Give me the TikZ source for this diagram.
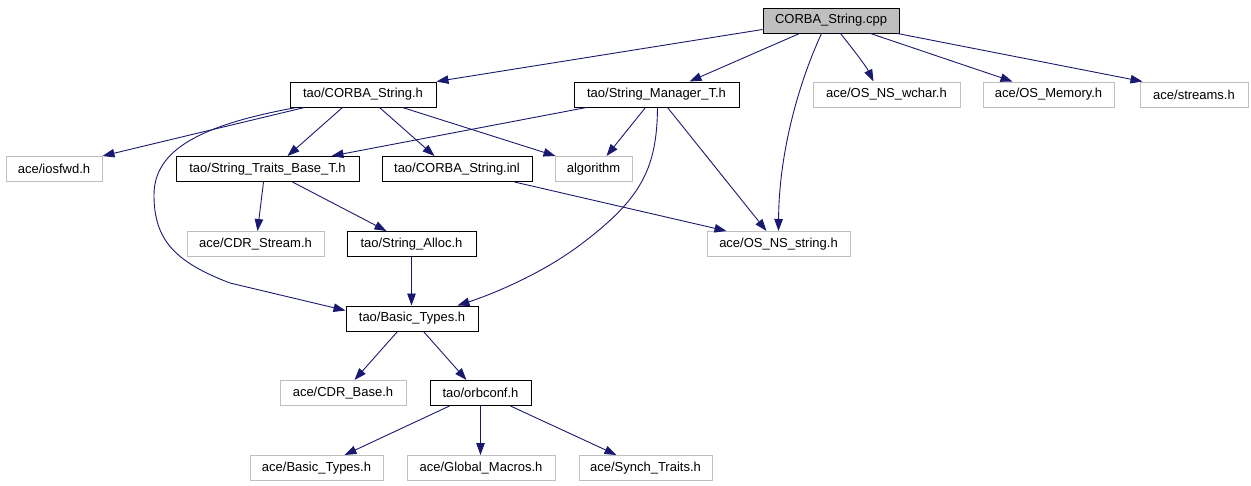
\documentclass[tikz,border=0pt]{standalone}
\usepackage{fontspec}
\setmainfont{Liberation Sans}
\usetikzlibrary{arrows.meta}
\definecolor{edgec}{RGB}{25,25,112}
\definecolor{lgray}{RGB}{191,191,191}
\begin{document}
\begin{tikzpicture}[x=1pt,y=-1pt,
  box/.style={draw=black,line width=1pt,minimum height=25pt,inner sep=0pt,font=\fontsize{13}{15}\selectfont},
  ext/.style={box,draw=lgray},
  root/.style={box,fill=lgray},
  dep/.style={draw=edgec,line width=0.9pt,-{Triangle[length=12pt,width=8.5pt]}}]
\useasboundingbox (0,0) rectangle (1251,485);
% nodes
\node[root,minimum width=136pt] (cpp) at (831,20.5) {CORBA\_String.cpp};
\node[box,minimum width=146pt] (csh) at (363,94.5) {tao/CORBA\_String.h};
\node[box,minimum width=165pt] (smt) at (656.5,94.5) {tao/String\_Manager\_T.h};
\node[ext,minimum width=147pt] (wchar) at (886.5,94.5) {ace/OS\_NS\_wchar.h};
\node[ext,minimum width=131pt] (mem) at (1048.5,94.5) {ace/OS\_Memory.h};
\node[ext,minimum width=108pt] (streams) at (1194,94.5) {ace/streams.h};
\node[ext,minimum width=96pt] (iosfwd) at (54,169) {ace/iosfwd.h};
\node[box,minimum width=183pt] (stb) at (267.5,169) {tao/String\_Traits\_Base\_T.h};
\node[box,minimum width=150pt] (inl) at (457,169) {tao/CORBA\_String.inl};
\node[ext,minimum width=77pt] (algo) at (593.5,169) {algorithm};
\node[ext,minimum width=137pt] (cdrs) at (255.5,244) {ace/CDR\_Stream.h};
\node[box,minimum width=129pt] (sal) at (411.5,244) {tao/String\_Alloc.h};
\node[ext,minimum width=143pt] (osstr) at (778.5,244) {ace/OS\_NS\_string.h};
\node[box,minimum width=132pt] (bt) at (412,318.5) {tao/Basic\_Types.h};
\node[ext,minimum width=126pt] (cdrb) at (343,393) {ace/CDR\_Base.h};
\node[box,minimum width=101pt] (orb) at (480.5,393) {tao/orbconf.h};
\node[ext,minimum width=133pt] (abt) at (316.5,468) {ace/Basic\_Types.h};
\node[ext,minimum width=148pt] (gm) at (481,468) {ace/Global\_Macros.h};
\node[ext,minimum width=133pt] (st) at (645.5,468) {ace/Synch\_Traits.h};
% edges from CORBA_String.cpp
\draw[dep] ([yshift=4pt]cpp.south west) -- (csh.north east);
\draw[dep] ([xshift=37pt]cpp.south west) -- ([xshift=116pt]smt.north west);
\draw[dep] ([xshift=59pt]cpp.south west) .. controls (800,80) and (779,150) .. ([xshift=72pt]osstr.north west);
\draw[dep] ([xshift=78pt]cpp.south west) .. controls (852,48) and (866,66) .. ([xshift=61pt]wchar.north west);
\draw[dep] ([xshift=108pt]cpp.south west) -- ([xshift=30pt]mem.north west);
\draw[dep] ([xshift=-2pt]cpp.south east) -- ([xshift=3pt]streams.north west);
% edges from tao/CORBA_String.h
\draw[dep] ([xshift=15pt]csh.south west) -- (iosfwd.north east);
\draw[dep] ([xshift=7pt]csh.south west) .. controls (200,125) and (154,150) .. (154,195)
  .. controls (154,240) and (175,262) .. (230,283) -- ([yshift=-5pt]bt.north west);
\draw[dep] ([xshift=53pt]csh.south west) -- ([xshift=112pt]stb.north west);
\draw[dep] ([xshift=90pt]csh.south west) -- ([xshift=53pt]inl.north west);
\draw[dep] ([xshift=113pt]csh.south west) -- ([xshift=1pt]algo.north west);
% edges from tao/String_Manager_T.h
\draw[dep] ([xshift=13pt]smt.south west) -- ([xshift=156pt]stb.north west);
\draw[dep] ([xshift=72pt]smt.south west) -- ([xshift=52pt]algo.north west);
\draw[dep] ([xshift=84pt]smt.south west) .. controls (657,170) and (640,200) .. (580,245)
  .. controls (540,275) and (490,295) .. ([xshift=112pt]bt.north west);
\draw[dep] ([xshift=94pt]smt.south west) -- ([xshift=60pt]osstr.north west);
% others
\draw[dep] ([xshift=133pt]inl.south west) -- ([xshift=20pt]osstr.north west);
\draw[dep] ([xshift=88pt]stb.south west) -- ([xshift=71pt]cdrs.north west);
\draw[dep] ([xshift=117pt]stb.south west) -- ([xshift=40pt]sal.north west);
\draw[dep] (sal.south) -- (sal.south |- bt.north);
\draw[dep] ([xshift=52pt]bt.south west) -- ([xshift=75pt]cdrb.north west);
\draw[dep] ([xshift=78pt]bt.south west) -- ([xshift=37pt]orb.north west);
\draw[dep] ([xshift=20pt]orb.south west) -- ([xshift=95pt]abt.north west);
\draw[dep] (orb.south) -- (orb.south |- gm.north);
\draw[dep] ([xshift=81pt]orb.south west) -- ([xshift=38pt]st.north west);
\end{tikzpicture}
\end{document}
